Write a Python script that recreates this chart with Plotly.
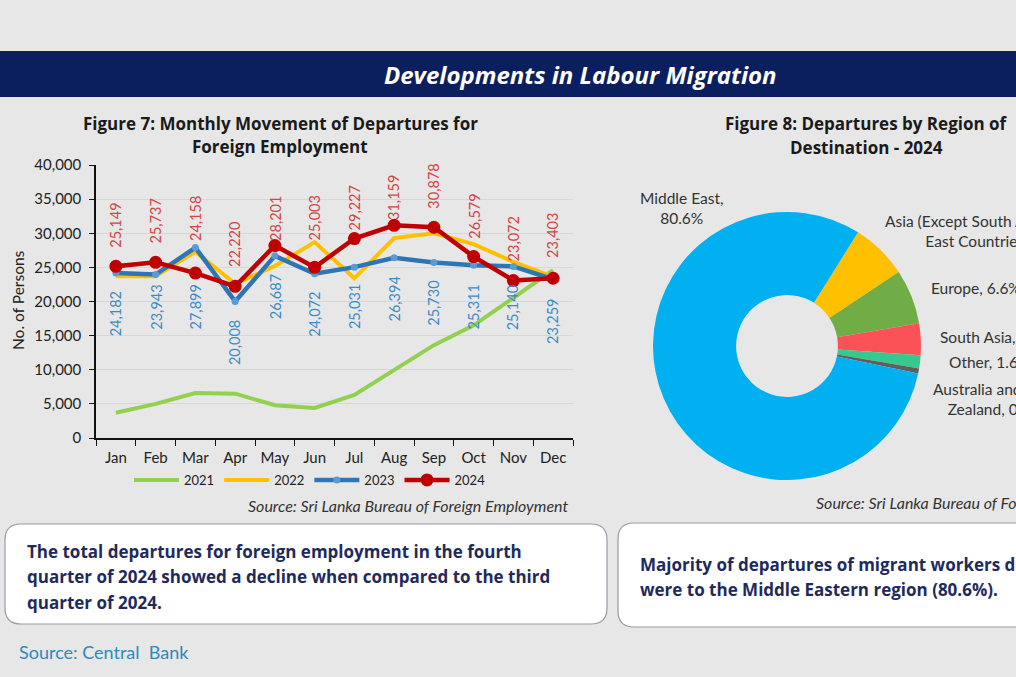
import plotly.graph_objects as go

W, H = 1016, 677

months = ["Jan", "Feb", "Mar", "Apr", "May", "Jun", "Jul", "Aug", "Sep", "Oct", "Nov", "Dec"]
dep_2021 = [3700, 5000, 6600, 6500, 4800, 4400, 6300, 10000, 13600, 16500, 20500, 24600]
dep_2022 = [23700, 23700, 27300, 22600, 25200, 28700, 23400, 29300, 30000, 28400, 25800, 23600]
dep_2023 = [24182, 23943, 27899, 20008, 26687, 24072, 25031, 26394, 25730, 25311, 25140, 23259]
dep_2024 = [25149, 25737, 24158, 22220, 28201, 25003, 29227, 31159, 30878, 26579, 23072, 23403]
y_ticks = [0, 5000, 10000, 15000, 20000, 25000, 30000, 35000, 40000]

# label offsets (px) as placed in the original chart
label_gap_2024 = [17, 17, 30, 17, 3, 25, 6, 3, 17, 16, 17, 18]
label_gap_2023 = [16, 8, 35, 17, 16, 16, 15, 17, 16, 17, 17, 18]

regions = ["Asia (Except South Asia & Middle<br>East Countries)", "Europe", "South Asia",
           "Other", "Australia and New<br>Zealand", "Middle East,<br>"]
region_share = [6.8, 6.6, 3.8, 1.6, 0.6, 80.6]
region_colors = ["#ffc000", "#70ad47", "#fa5257", "#35c98f", "#5f5f5f", "#00b0f0"]

box1_lines = ["The total departures for foreign employment in the fourth",
              "quarter of 2024 showed a decline when compared to the third",
              "quarter of 2024."]
box2_lines = ["Majority of departures of migrant workers during 2024",
              "were to the Middle Eastern region (80.6%)."]


def px(x):
    return x / W


def py(y):
    return 1 - y / H


BG = "#e7e7e7"
FONT = "Lato, Open Sans, sans-serif"
FONT2 = "Open Sans, Lato, sans-serif"

fig = go.Figure()

line_styles = [
    ("2021", dep_2021, "#92d050", 4, 0),
    ("2022", dep_2022, "#ffc000", 4, 0),
    ("2023", dep_2023, "#2e75b6", 4.5, 7),
    ("2024", dep_2024, "#c00000", 4.5, 13),
]
for name, vals, col, lw, ms in line_styles:
    fig.add_trace(go.Scatter(
        x=months, y=vals, name=name,
        mode="lines+markers" if ms else "lines",
        line=dict(color=col, width=lw),
        marker=dict(size=ms, color=col if name == "2024" else "#5b9bd5",
                    line=dict(width=0)),
        xaxis="x", yaxis="y", hoverinfo="skip",
    ))

fig.add_trace(go.Pie(
    labels=regions, values=region_share, sort=False, direction="clockwise",
    rotation=32, hole=0.38, textinfo="none", showlegend=False, automargin=False,
    marker=dict(colors=region_colors, line=dict(width=0)),
    domain=dict(x=[px(653), px(921)], y=[py(480), py(212)]),
    hoverinfo="skip",
))


def note(x, y, text, size=13, color="#333", xanchor="center", family=FONT, **kw):
    d = dict(x=px(x), y=py(y), xref="paper", yref="paper", text=text, showarrow=False,
             xanchor=xanchor, yanchor="middle", font=dict(family=family, size=size, color=color))
    d.update(kw)
    return d


annotations = []
for m, v, g in zip(months, dep_2024, label_gap_2024):
    annotations.append(dict(x=m, y=v, xref="x", yref="y", text=f"{v:,}", showarrow=False,
                            textangle=-90, yanchor="bottom", xanchor="center", yshift=g,
                            font=dict(family=FONT, size=14.5, color="#d24545")))
for m, v, g in zip(months, dep_2023, label_gap_2023):
    annotations.append(dict(x=m, y=v, xref="x", yref="y", text=f"{v:,}", showarrow=False,
                            textangle=-90, yanchor="top", xanchor="center", yshift=-g,
                            font=dict(family=FONT, size=14.5, color="#3d8cc8")))

annotations.append(note(580, 75, "<b><i>Developments in Labour Migration</i></b>", 24, "white",
                        family=FONT2))
annotations.append(note(280, 123, "<b>Figure 7: Monthly Movement of Departures for</b>", 17, "#1a1a1a",
                        family=FONT2))
annotations.append(note(280, 147, "<b>Foreign Employment</b>", 17, "#1a1a1a", family=FONT2))
annotations.append(note(866, 124, "<b>Figure 8: Departures by Region of</b>", 17, "#1a1a1a",
                        family=FONT2))
annotations.append(note(866, 148, "<b>Destination - 2024</b>", 17, "#1a1a1a", family=FONT2))
annotations.append(note(18, 300, "No. of Persons", 15.5, "#222", textangle=-90))
annotations.append(note(570, 505, "<i>Source: Sri Lanka Bureau of Foreign Employment</i>",
                        16, "#333", xanchor="right"))
annotations.append(note(814, 502, "<i>Source: Sri Lanka Bureau of Foreign Employment</i>",
                        16, "#333", xanchor="left"))

pie_label_pos = [(997, 231, "center"), (929, 288, "left"), (938, 337, "left"),
                 (947, 362, "left"), (995, 399, "center"), (682, 208, "center")]
for lab, val, (lx, ly, anc) in zip(regions, region_share, pie_label_pos):
    sep = "" if lab.endswith("<br>") else ", "
    annotations.append(note(lx, ly, f"{lab}{sep}{val}%", 15.5, "#333", xanchor=anc))

for i, t in enumerate(box1_lines):
    annotations.append(note(25, 551 + 25.5 * i, f"<b>{t}</b>", 17, "#1f2a5c", xanchor="left",
                            family=FONT2))
for i, t in enumerate(box2_lines):
    annotations.append(note(638, 564 + 25 * i, f"<b>{t}</b>", 17, "#1f2a5c", xanchor="left",
                            family=FONT2))
annotations.append(note(17, 652, "Source: Central  Bank", 18, "#2b8ac0", xanchor="left"))


def rounded(x0, y0, x1, y1, r):
    X = lambda v: f"{px(v):.5f}"
    Y = lambda v: f"{py(v):.5f}"
    return (f"M {X(x0+r)} {Y(y0)} L {X(x1-r)} {Y(y0)} Q {X(x1)} {Y(y0)} {X(x1)} {Y(y0+r)} "
            f"L {X(x1)} {Y(y1-r)} Q {X(x1)} {Y(y1)} {X(x1-r)} {Y(y1)} "
            f"L {X(x0+r)} {Y(y1)} Q {X(x0)} {Y(y1)} {X(x0)} {Y(y1-r)} "
            f"L {X(x0)} {Y(y0+r)} Q {X(x0)} {Y(y0)} {X(x0+r)} {Y(y0)} Z")


shapes = [
    dict(type="rect", xref="paper", yref="paper", x0=0, x1=1, y0=py(97), y1=py(51),
         fillcolor="#0b1f5e", line=dict(width=0), layer="below"),
    dict(type="path", xref="paper", yref="paper", path=rounded(5, 524, 607, 624, 16),
         fillcolor="white", line=dict(color="#9a9aa8", width=1.2), layer="below"),
    dict(type="path", xref="paper", yref="paper", path=rounded(618, 523, 1060, 627, 16),
         fillcolor="white", line=dict(color="#9a9aa8", width=1.2), layer="below"),
]

fig.update_layout(
    width=W, height=H, margin=dict(l=0, r=0, t=0, b=0, pad=0, autoexpand=False),
    paper_bgcolor=BG, plot_bgcolor=BG,
    font=dict(family=FONT, size=13, color="#222"),
    xaxis=dict(domain=[px(96), px(573)], range=[-0.5, 11.5], showline=True, linecolor="#111",
               linewidth=1.5, ticks="outside", ticklen=6, tickcolor="#111", tickson="boundaries",
               showgrid=False, tickfont=dict(size=15, color="#222"), fixedrange=True,
               ticklabelstandoff=5, automargin=False),
    yaxis=dict(domain=[py(438), py(165)], range=[0, 40000], tickvals=y_ticks, tickformat=",",
               showline=True, linecolor="#111", linewidth=1.5, ticks="outside", ticklen=5,
               tickcolor="#111", gridcolor="#d7d7d7", gridwidth=1, zeroline=False,
               tickfont=dict(size=15, color="#222"), fixedrange=True, ticklabelstandoff=5,
               automargin=False),
    legend=dict(orientation="h", x=px(310), y=py(480), xanchor="center", yanchor="middle",
                bgcolor="rgba(0,0,0,0)", itemwidth=45, font=dict(size=13, color="#222"),
                traceorder="normal"),
    annotations=annotations, shapes=shapes, showlegend=True,
)

page_fix = (
    "var css='margin:0;padding:0;overflow:hidden;width:1016px;height:677px;"
    "font-size:0;line-height:0;background:#e7e7e7;';"
    "document.documentElement.style.cssText=css;document.body.style.cssText=css;"
    "var g=document.getElementsByClassName('plotly-graph-div')[0];"
    "if(g){g.style.position='fixed';g.style.left='0px';g.style.top='0px';}"
)
fig.write_html("out.html", config={"displayModeBar": False}, post_script=page_fix)
